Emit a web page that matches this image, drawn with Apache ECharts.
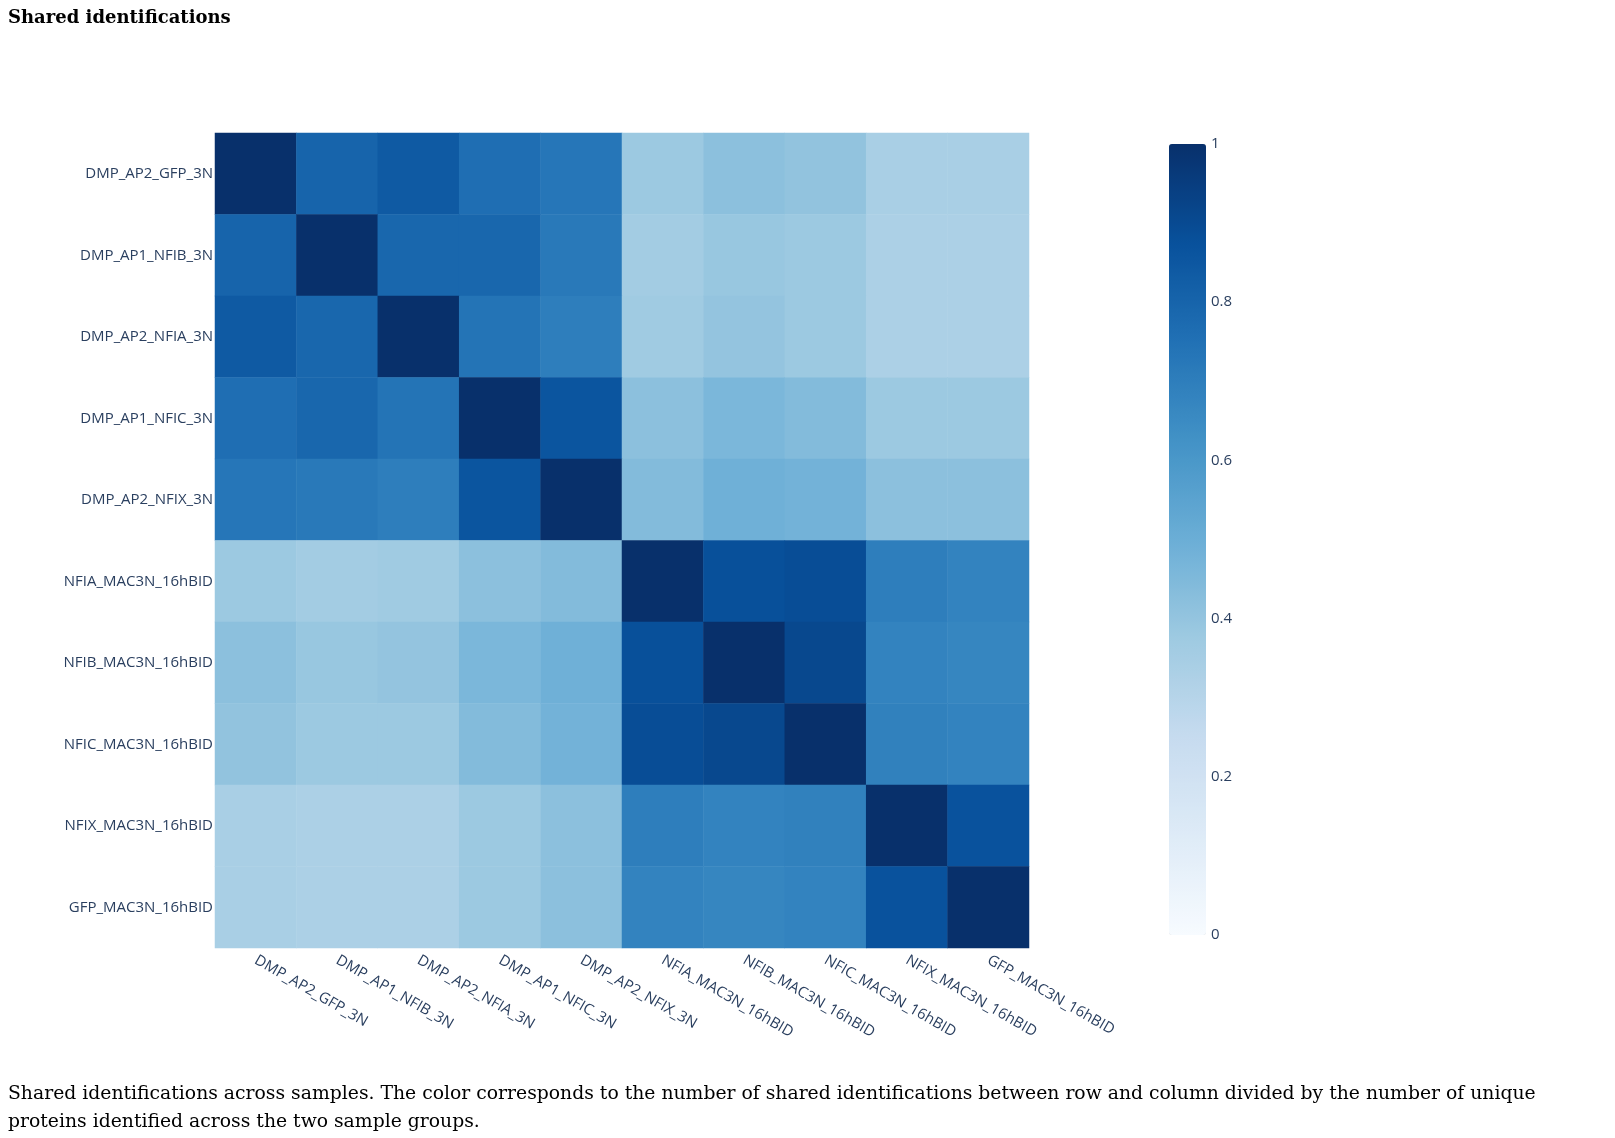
<!DOCTYPE html>
<html>
<head>
<meta charset="utf-8">
<script src="https://cdn.jsdelivr.net/npm/echarts@6/dist/echarts.min.js"></script>
<style>
html,body{margin:0;padding:0;background:#fff;}
#chart{width:1615px;height:1138px;}
</style>
</head>
<body>
<div id="chart"></div>
<script>
const samples = [
  'DMP_AP2_GFP_3N','DMP_AP1_NFIB_3N','DMP_AP2_NFIA_3N','DMP_AP1_NFIC_3N','DMP_AP2_NFIX_3N',
  'NFIA_MAC3N_16hBID','NFIB_MAC3N_16hBID','NFIC_MAC3N_16hBID','NFIX_MAC3N_16hBID','GFP_MAC3N_16hBID'
];
const row_DMP_AP2_GFP_3N   = [1.00,0.80,0.84,0.76,0.73,0.38,0.42,0.405,0.34,0.34];
const row_DMP_AP1_NFIB_3N  = [0.80,1.00,0.79,0.79,0.72,0.36,0.39,0.38,0.33,0.33];
const row_DMP_AP2_NFIA_3N  = [0.84,0.79,1.00,0.74,0.70,0.37,0.40,0.38,0.33,0.33];
const row_DMP_AP1_NFIC_3N  = [0.76,0.79,0.74,1.00,0.86,0.42,0.46,0.44,0.38,0.38];
const row_DMP_AP2_NFIX_3N  = [0.73,0.72,0.70,0.86,1.00,0.44,0.49,0.48,0.42,0.42];
const row_NFIA_MAC3N_16hBID = [0.38,0.36,0.37,0.42,0.44,1.00,0.88,0.89,0.70,0.68];
const row_NFIB_MAC3N_16hBID = [0.42,0.39,0.40,0.46,0.49,0.88,1.00,0.91,0.68,0.67];
const row_NFIC_MAC3N_16hBID = [0.405,0.38,0.38,0.44,0.48,0.89,0.91,1.00,0.69,0.68];
const row_NFIX_MAC3N_16hBID = [0.34,0.33,0.33,0.38,0.42,0.70,0.68,0.69,1.00,0.87];
const row_GFP_MAC3N_16hBID  = [0.34,0.33,0.33,0.38,0.42,0.68,0.67,0.68,0.87,1.00];
const colorbarTicks = [0, 0.2, 0.4, 0.6, 0.8, 1];

const rows = [row_DMP_AP2_GFP_3N,row_DMP_AP1_NFIB_3N,row_DMP_AP2_NFIA_3N,row_DMP_AP1_NFIC_3N,row_DMP_AP2_NFIX_3N,
  row_NFIA_MAC3N_16hBID,row_NFIB_MAC3N_16hBID,row_NFIC_MAC3N_16hBID,row_NFIX_MAC3N_16hBID,row_GFP_MAC3N_16hBID];

const data = [];
rows.forEach((r, yi) => r.forEach((v, xi) => data.push([xi, yi, v])));

const blues = ['#f7fbff','#deebf7','#c6dbef','#9ecae1','#6baed6','#4292c6','#2171b5','#08519c','#08306b'];
const tickFont = {fontFamily: '"Open Sans", sans-serif', fontSize: 15, color: '#2a3f5f'};

const chart = echarts.init(document.getElementById('chart'), null, {renderer: 'canvas'});
chart.setOption({
  animation: false,
  backgroundColor: '#ffffff',
  title: [
    {text: 'Shared identifications', left: 8, top: 9, padding: 0,
     textStyle: {fontFamily: '"DejaVu Serif", serif', fontWeight: 'bold', fontSize: 18, color: '#000'}},
    {text: 'Shared identifications across samples. The color corresponds to the number of shared identifications between row and column divided by the number of unique\nproteins identified across the two sample groups.',
     left: 8, top: 1080, padding: 0,
     textStyle: {fontFamily: '"DejaVu Serif", serif', fontWeight: 'normal', fontSize: 18.8, lineHeight: 28, color: '#000'}}
  ],
  grid: [
    {left: 215, top: 133, width: 814, height: 815},
    {left: 1169, top: 144, width: 37, height: 791}
  ],
  xAxis: [
    {type: 'category', data: samples, gridIndex: 0,
     axisLine: {show: false}, axisTick: {show: false}, splitLine: {show: false},
     axisLabel: Object.assign({rotate: -30, margin: 11, interval: 0}, tickFont)},
    {type: 'value', gridIndex: 1, show: false, min: 0, max: 1}
  ],
  yAxis: [
    {type: 'category', data: samples, gridIndex: 0, inverse: true,
     axisLine: {show: false}, axisTick: {show: false}, splitLine: {show: false},
     axisLabel: Object.assign({margin: 2, interval: 0}, tickFont)},
    {type: 'value', gridIndex: 1, position: 'right', min: colorbarTicks[0], max: colorbarTicks[colorbarTicks.length-1], interval: 0.2,
     axisLine: {show: false}, axisTick: {show: false}, splitLine: {show: false},
     axisLabel: Object.assign({margin: 5}, tickFont)}
  ],
  visualMap: {
    type: 'continuous', min: 0, max: 1, seriesIndex: 0,
    left: 1169, top: 144, itemWidth: 37, itemHeight: 791, padding: 0,
    calculable: false, showLabel: false, text: null,
    inRange: {color: blues}
  },
  series: [{
    type: 'heatmap', xAxisIndex: 0, yAxisIndex: 0, data: data,
    itemStyle: {borderWidth: 0},
    emphasis: {disabled: true}
  }]
});
</script>
</body>
</html>
